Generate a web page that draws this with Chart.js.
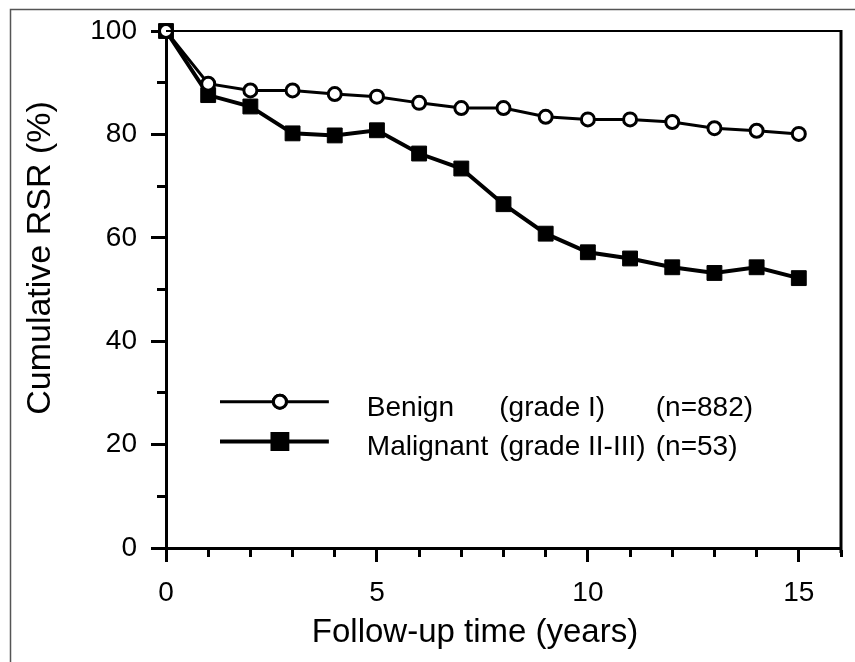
<!DOCTYPE html>
<html>
<head>
<meta charset="utf-8">
<script src="https://cdn.jsdelivr.net/npm/chart.js@4/dist/chart.umd.min.js"></script>
<style>
  html, body { margin: 0; padding: 0; background: #fff; }
  #wrap { width: 855px; height: 662px; }
</style>
</head>
<body>
<div id="wrap"><canvas id="rsr"></canvas></div>
<script>
// follow-up years and cumulative RSR (%)
var years = [0, 1, 2, 3, 4, 5, 6, 7, 8, 9, 10, 11, 12, 13, 14, 15];
var benign = [100, 89.8, 88.5, 88.5, 87.8, 87.3, 86.1, 85.1, 85.1, 83.4, 82.9, 82.9, 82.4, 81.2, 80.7, 80.1];
var malignant = [100, 87.6, 85.4, 80.2, 79.8, 80.8, 76.3, 73.4, 66.5, 60.8, 57.2, 56.0, 54.3, 53.2, 54.3, 52.2];
var xTickLabels = [0, 5, 10, 15];
var yTickLabels = [0, 20, 40, 60, 80, 100];
var legendRows = [
  ['Benign', '(grade I)', '(n=882)'],
  ['Malignant', '(grade II-III)', '(n=53)']
];

var FONT = '"Liberation Sans", Arial, Helvetica, sans-serif';
Chart.defaults.font.family = FONT;
Chart.defaults.color = '#000';

function toXY(ys) {
  return years.map(function(x, i) { return {x: x, y: ys[i]}; });
}

/*************************  frame, titles, legend  *************************/
var decor = {
  id: 'decor',
  beforeDraw: function(chart) {
    var c = chart.ctx;
    c.save();
    c.strokeStyle = '#555';
    c.lineWidth = 1.5;
    c.beginPath();
    c.moveTo(10.5, 662);
    c.lineTo(10.5, 9.5);
    c.lineTo(855, 9.5);
    c.stroke();
    c.restore();
  },
  afterDatasetsDraw: function(chart) {
    var c = chart.ctx, a = chart.chartArea;
    var xs = chart.scales.x, ys = chart.scales.y;
    c.save();
    c.strokeStyle = '#000';
    // top and right border of the plot box
    c.lineWidth = 2;
    c.beginPath();
    c.moveTo(a.left, a.top);
    c.lineTo(a.right, a.top);
    c.stroke();
    c.lineWidth = 3;
    c.beginPath();
    c.moveTo(a.right, a.top - 1);
    c.lineTo(a.right, a.bottom + 5);
    c.stroke();

    // axis titles
    c.fillStyle = '#000';
    c.font = '33px ' + FONT;
    c.textAlign = 'center';
    c.textBaseline = 'middle';
    c.fillText('Follow-up time (years)', 475, 633);
    c.save();
    c.translate(41, 258);
    c.rotate(-Math.PI / 2);
    c.font = '34px ' + FONT;
    c.fillText('Cumulative RSR (%)', 0, 0);
    c.restore();

    // legend
    var rowY = [28.3, 20.6];
    var cols = [4.76, 7.9, 11.61];
    chart.data.datasets.forEach(function(ds, i) {
      var y = ys.getPixelForValue(rowY[i]);
      var x1 = xs.getPixelForValue(1.28), x2 = xs.getPixelForValue(3.86);
      var xm = xs.getPixelForValue(2.7);
      c.strokeStyle = '#000';
      c.lineWidth = ds.borderWidth;
      c.beginPath();
      c.moveTo(x1, y);
      c.lineTo(x2, y);
      c.stroke();
      Chart.helpers.drawPoint(c, {
        pointStyle: ds.pointStyle,
        radius: ds.pointRadius,
        borderWidth: ds.pointBorderWidth,
        rotation: 0
      }, xm, y);
      c.fillStyle = ds.pointBackgroundColor;
      c.strokeStyle = '#000';
      c.lineWidth = ds.pointBorderWidth;
      c.fill();
      c.stroke();

      c.fillStyle = '#000';
      c.font = '28px ' + FONT;
      c.textAlign = 'left';
      c.textBaseline = 'alphabetic';
      legendRows[i].forEach(function(t, j) {
        c.fillText(t, xs.getPixelForValue(cols[j]), y + 14);
      });
    });
    c.restore();
  }
};

var ctx = document.getElementById('rsr').getContext('2d');
new Chart(ctx, {
  type: 'line',
  data: {
    datasets: [
      {
        label: 'Benign',
        data: toXY(benign),
        borderColor: '#000',
        borderWidth: 3,
        pointStyle: 'circle',
        pointRadius: 6.5,
        pointBorderWidth: 3,
        pointBackgroundColor: '#fff',
        pointBorderColor: '#000',
        clip: false
      },
      {
        label: 'Malignant',
        data: toXY(malignant),
        borderColor: '#000',
        borderWidth: 4,
        pointStyle: 'rect',
        pointRadius: 10.5,
        pointBorderWidth: 1,
        pointBackgroundColor: '#000',
        pointBorderColor: '#000',
        clip: false
      }
    ]
  },
  options: {
    responsive: true,
    maintainAspectRatio: false,
    animation: false,
    layout: { padding: { left: 91, top: 31, right: 13, bottom: 54 } },
    plugins: {
      legend: { display: false },
      tooltip: { enabled: false }
    },
    scales: {
      x: {
        type: 'linear',
        min: 0,
        max: 16,
        afterFit: function(s) { s.height = 60; },
        border: { color: '#000', width: 3 },
        grid: {
          drawOnChartArea: false,
          tickLength: 14,
          tickWidth: 3,
          tickColor: '#000',
          tickBorderDash: function(c) {
            return xTickLabels.indexOf(c.tick.value) >= 0 ? [] : [7, 100];
          }
        },
        ticks: {
          stepSize: 1,
          padding: 14,
          maxRotation: 0,
          autoSkip: false,
          font: { size: 28 },
          callback: function(v) { return xTickLabels.indexOf(v) >= 0 ? String(v) : ''; }
        }
      },
      y: {
        min: 0,
        max: 100,
        afterFit: function(s) { s.width = 75; },
        border: { color: '#000', width: 3 },
        grid: {
          drawOnChartArea: false,
          tickLength: 15,
          tickWidth: 3,
          tickColor: '#000',
          tickBorderDash: function(c) {
            return yTickLabels.indexOf(c.tick.value) >= 0 ? [] : [0, 6, 9, 100];
          }
        },
        ticks: {
          stepSize: 10,
          padding: 14,
          autoSkip: false,
          font: { size: 28 },
          callback: function(v) { return yTickLabels.indexOf(v) >= 0 ? String(v) : ''; }
        }
      }
    }
  },
  plugins: [decor]
});
</script>
</body>
</html>
